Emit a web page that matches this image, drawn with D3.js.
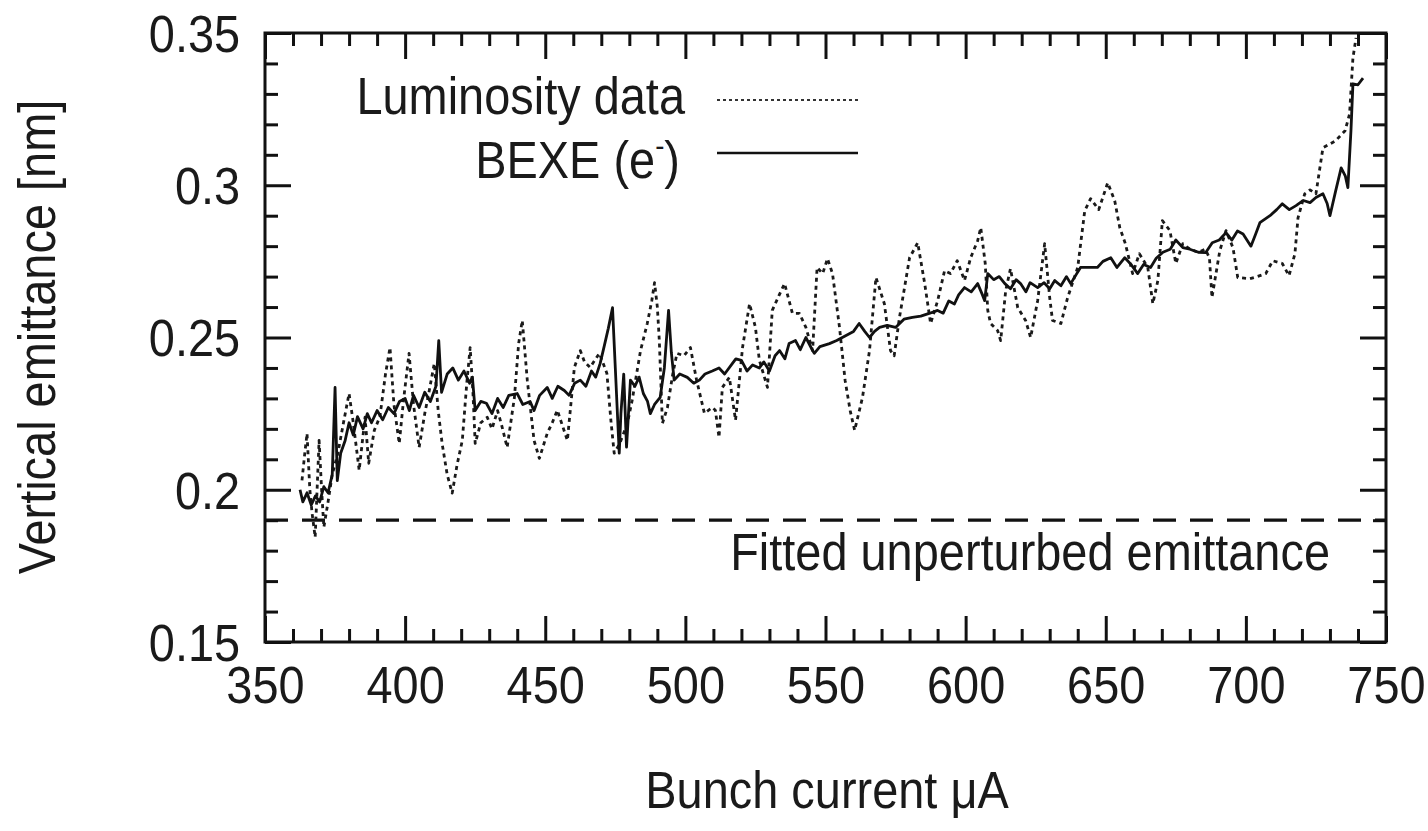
<!DOCTYPE html>
<html>
<head>
<meta charset="utf-8">
<script src="https://cdn.jsdelivr.net/npm/d3@7"></script>
<style>
  html, body { margin: 0; padding: 0; background: #fff; }
  svg { display: block; }
  text { font-family: "Liberation Sans", Arial, Helvetica, sans-serif; fill: #1a1a1a; }
</style>
</head>
<body>
<svg id="chart" width="1428" height="831"></svg>
<script>
// ---------------- data ----------------
const xMajorTicks = [350, 400, 450, 500, 550, 600, 650, 700, 750];
const xTickLabels = ["350", "400", "450", "500", "550", "600", "650", "700", "750"];
const yMajorTicks = [0.15, 0.2, 0.25, 0.3, 0.35];
const yTickLabels = ["0.15", "0.2", "0.25", "0.3", "0.35"];
const xMinorTicks = [360,370,380,390,410,420,430,440,460,470,480,490,510,520,530,540,560,570,580,590,610,620,630,640,660,670,680,690,710,720,730,740];
const yMinorTicks = [0.16,0.17,0.18,0.19,0.21,0.22,0.23,0.24,0.26,0.27,0.28,0.29,0.31,0.32,0.33,0.34];

const seriesNames = ["Luminosity data", "BEXE (e\u207B)"];
const fittedEmittance = 0.19;
const fittedLabel = "Fitted unperturbed emittance";
const xTitle = "Bunch current \u03BCA";
const yTitle = "Vertical emittance [nm]";

// BEXE (e-) : bunch current [uA]
const bexeCurrent = [362.5,363.5,365,366.5,368,369.5,371,372.5,374,375,375.8,377,378.6,380,381.5,383,385,386.5,388,390,392,394,396,398,400,401.5,403,405,407,409,411,412,413,415,417,419,421,423,424,425,427,429,431,433,435,437,440,442,444.6,446,448,450.7,452.5,454.5,456.8,458.5,460.5,462.5,464.5,466.5,468,469.6,471,472.5,474,475,476.4,477,478,479,480.4,482,483.5,485,486.5,487.5,489,491,492.5,494,495,496,498,500.7,503,505,507,509.6,512,514,516.8,518,520,522,524,526.4,528,530,532,533.6,535.5,537,539.3,541,543,545.4,546,548,551.4,554,556,558,560,562,564,565.7,567.5,569.3,572,575,578,581,584,587,590,592,594,596,597.5,599.6,602,604.3,606,606.8,607.9,610,612,614,616,618,619.6,621.5,623,625.7,628,630,631.8,634,636,637.5,639,641,644,647,649,651.8,654,656.8,659,661.4,663.5,666,668,670.4,673,675,677.5,680,683,685.7,688,690.5,692.9,695,697,699,701.8,703.5,705,708.6,711,713,715.5,717.9,720.5,722.9,725,727.5,729,730,732,734,735.5,736.4,737.5,738.2,740,741.8];
// BEXE (e-) : vertical emittance [nm]
const bexeEmittance = [0.200,0.196,0.199,0.195,0.198,0.196,0.201,0.199,0.205,0.2336,0.203,0.212,0.2162,0.222,0.218,0.224,0.220,0.225,0.222,0.226,0.223,0.227,0.225,0.229,0.230,0.226,0.231,0.227,0.232,0.229,0.234,0.249,0.232,0.238,0.240,0.236,0.239,0.235,0.237,0.226,0.229,0.2284,0.225,0.230,0.227,0.231,0.2316,0.228,0.229,0.226,0.231,0.2336,0.230,0.234,0.2326,0.231,0.235,0.236,0.234,0.239,0.237,0.2415,0.247,0.253,0.2598,0.240,0.212,0.225,0.238,0.214,0.236,0.234,0.237,0.2316,0.229,0.225,0.228,0.2303,0.240,0.2589,0.245,0.236,0.238,0.2369,0.235,0.236,0.238,0.239,0.240,0.238,0.2415,0.243,0.2425,0.239,0.241,0.240,0.242,0.239,0.244,0.2457,0.243,0.248,0.249,0.246,0.250,0.2457,0.2448,0.247,0.248,0.249,0.250,0.251,0.252,0.2546,0.252,0.250,0.252,0.2533,0.254,0.2533,0.256,0.2566,0.257,0.2579,0.2589,0.258,0.262,0.261,0.264,0.2664,0.265,0.2677,0.264,0.2621,0.271,0.269,0.270,0.2677,0.266,0.269,0.2677,0.265,0.268,0.2664,0.268,0.266,0.2687,0.267,0.270,0.2677,0.270,0.273,0.273,0.273,0.275,0.2762,0.273,0.2762,0.274,0.271,0.274,0.273,0.276,0.278,0.279,0.282,0.2795,0.279,0.278,0.2779,0.2811,0.282,0.2844,0.282,0.285,0.284,0.280,0.284,0.2877,0.290,0.292,0.2939,0.292,0.2933,0.295,0.2943,0.296,0.2972,0.294,0.290,0.298,0.3057,0.303,0.2992,0.318,0.3333,0.333,0.3352];

// Luminosity data : bunch current [uA]
const lumiCurrent = [363.2,364.2,365,366,366.8,367.9,369.3,370.2,371,372.5,374,376,378,380,381.5,383.6,385.7,387,389,391,393,394.6,396,397.9,399.5,401.4,403,405,407,408.5,410.4,411.8,413.2,415,416.8,418.5,420.4,422,423.2,424.2,425,427,429.3,431,433,434.5,436.4,439,440.5,441.8,443.6,446,447.9,450.7,452.5,454.3,457.9,460.4,462.5,464,466,469.3,472,473.5,474.6,476.5,479.3,481,484,486.4,488,489,490,490.7,491.8,493.6,495.5,497,499.5,501.8,504,506.8,509.6,510.7,512,513.2,515.7,517.9,520.4,522.9,525,526.4,529.3,531,533.5,535.4,538.2,540.7,543,545.4,547,549,550.7,552.5,555,557,558.8,560.4,563.2,565.7,568,571,573.2,574.5,576.4,580,582.9,585.4,587.5,590,592.5,594.6,597,599.6,601.8,604.3,605.4,607,607.9,608.9,611.4,612.5,614.3,616,618.6,621.4,623.2,625.7,628.2,630,631,634,636.4,640,642.5,644.6,647.5,650.7,653.2,655,657,659.6,662,665,666.8,668.6,670.2,672.9,675,677.5,680,683,685.5,687,687.9,690.7,692.9,695.4,697.1,701.4,704,707.1,709.6,713,715.4,717.5,718.6,721,722.9,725,727.5,732,735.4,737,738.2,739.3];
// Luminosity data : vertical emittance [nm]
const lumiEmittance = [0.2031,0.212,0.2185,0.200,0.1923,0.1844,0.2162,0.200,0.1877,0.196,0.205,0.212,0.222,0.2316,0.222,0.2064,0.2238,0.2087,0.2195,0.224,0.238,0.2467,0.228,0.2152,0.230,0.2448,0.228,0.2139,0.225,0.232,0.2415,0.226,0.2152,0.205,0.1989,0.208,0.2162,0.235,0.2467,0.232,0.2152,0.222,0.2238,0.220,0.226,0.221,0.2139,0.2303,0.248,0.2556,0.2359,0.2162,0.2103,0.2185,0.222,0.2261,0.2162,0.2402,0.2457,0.242,0.2402,0.2448,0.2382,0.222,0.212,0.215,0.2218,0.2293,0.2457,0.2546,0.262,0.268,0.260,0.249,0.2218,0.227,0.238,0.2448,0.244,0.2467,0.236,0.2251,0.227,0.2261,0.2172,0.2336,0.2369,0.2228,0.2467,0.2611,0.2533,0.2425,0.2336,0.2589,0.264,0.2677,0.2579,0.2579,0.2533,0.2457,0.273,0.271,0.2759,0.271,0.2533,0.2359,0.226,0.2195,0.2303,0.2457,0.2697,0.2611,0.2457,0.244,0.2566,0.2762,0.2811,0.2677,0.2546,0.262,0.272,0.271,0.2752,0.2687,0.2762,0.2818,0.2861,0.2743,0.2589,0.2546,0.2523,0.249,0.2654,0.2726,0.2598,0.2556,0.250,0.2621,0.2808,0.2631,0.2556,0.2546,0.2631,0.273,0.2916,0.2956,0.292,0.3008,0.2949,0.2861,0.2808,0.271,0.2775,0.273,0.2611,0.2687,0.2884,0.2851,0.2743,0.2808,0.279,0.278,0.279,0.2762,0.2631,0.2785,0.2851,0.2795,0.2697,0.2693,0.270,0.271,0.2752,0.2743,0.2703,0.2775,0.2893,0.2972,0.2985,0.2972,0.3123,0.3146,0.3179,0.3234,0.3418,0.3484];

// ---------------- layout ----------------
const svg = d3.select("#chart");
const pL = 265, pR = 1386, pT = 33, pB = 642;
const ink = "#111";

const x = d3.scaleLinear().domain([350, 750]).range([pL, pR]);
const y = d3.scaleLinear().domain([0.15, 0.35]).range([pB, pT]);

const FONT = 51;      // rendered with a slight horizontal squeeze
const SQ = 0.92;

svg.append("defs").append("clipPath").attr("id", "plotclip")
  .append("rect").attr("x", pL).attr("y", pT).attr("width", pR - pL).attr("height", pB - pT);

function styleAxis(g) {
  g.select(".domain").remove();
  g.selectAll(".tick line").attr("stroke", ink).attr("stroke-width", 3);
  g.selectAll("text").attr("font-size", FONT).attr("fill", "#1a1a1a")
    .attr("font-family", '"Liberation Sans", Arial, sans-serif')
    .attr("transform", `scale(${SQ},1)`);
}

// minor ticks (all four sides)
svg.append("g").attr("transform", `translate(0,${pB})`)
  .call(d3.axisBottom(x).tickValues(xMinorTicks).tickSize(-13).tickFormat(""))
  .call(styleAxis);
svg.append("g").attr("transform", `translate(0,${pT})`)
  .call(d3.axisTop(x).tickValues(xMinorTicks).tickSize(-13).tickFormat(""))
  .call(styleAxis);
svg.append("g").attr("transform", `translate(${pL},0)`)
  .call(d3.axisLeft(y).tickValues(yMinorTicks).tickSize(-13).tickFormat(""))
  .call(styleAxis);
svg.append("g").attr("transform", `translate(${pR},0)`)
  .call(d3.axisRight(y).tickValues(yMinorTicks).tickSize(-13).tickFormat(""))
  .call(styleAxis);

// major ticks
svg.append("g").attr("transform", `translate(0,${pB})`)
  .call(d3.axisBottom(x).tickValues(xMajorTicks).tickSize(-26).tickPadding(25)
    .tickFormat((d, i) => xTickLabels[i]))
  .call(styleAxis);
svg.append("g").attr("transform", `translate(0,${pT})`)
  .call(d3.axisTop(x).tickValues(xMajorTicks).tickSize(-26).tickFormat(""))
  .call(styleAxis);
svg.append("g").attr("transform", `translate(${pL},0)`)
  .call(d3.axisLeft(y).tickValues(yMajorTicks).tickSize(-26).tickPadding(27)
    .tickFormat((d, i) => yTickLabels[i]))
  .call(styleAxis)
  .call(g => g.selectAll("text").attr("dy", "0.36em"));
svg.append("g").attr("transform", `translate(${pR},0)`)
  .call(d3.axisRight(y).tickValues(yMajorTicks).tickSize(-26).tickFormat(""))
  .call(styleAxis);

// fitted unperturbed emittance
svg.append("line")
  .attr("x1", pL).attr("x2", pR)
  .attr("y1", y(fittedEmittance)).attr("y2", y(fittedEmittance))
  .attr("stroke", ink).attr("stroke-width", 3.2).attr("stroke-dasharray", "23,14");

function label(xp, yp, anchor, txt, extra) {
  return svg.append("text")
    .attr("transform", `translate(${xp},${yp})${extra || ""} scale(${SQ},1)`)
    .attr("text-anchor", anchor).attr("font-size", FONT).text(txt);
}
label(1330, 570, "end", fittedLabel);

// series lines
const plot = svg.append("g").attr("clip-path", "url(#plotclip)");
const lumiData = lumiCurrent.map((c, i) => [c, lumiEmittance[i]]);
const bexeData = bexeCurrent.map((c, i) => [c, bexeEmittance[i]]);
const line = d3.line().x(d => x(d[0])).y(d => y(d[1]));

plot.append("path").datum(lumiData).attr("d", line)
  .attr("fill", "none").attr("stroke", "#1a1a1a").attr("stroke-width", 2.8)
  .attr("stroke-dasharray", "4,4").attr("stroke-linejoin", "round");
plot.append("path").datum(bexeData).attr("d", line)
  .attr("fill", "none").attr("stroke", "#111").attr("stroke-width", 2.8)
  .attr("stroke-linejoin", "round");

// frame
svg.append("rect").attr("x", pL).attr("y", pT)
  .attr("width", pR - pL).attr("height", pB - pT)
  .attr("fill", "none").attr("stroke", ink).attr("stroke-width", 3);

// legend
label(685, 114, "end", seriesNames[0]);
svg.append("line").attr("x1", 717).attr("x2", 860).attr("y1", 100).attr("y2", 100)
  .attr("stroke", "#333").attr("stroke-width", 2).attr("stroke-dasharray", "3,3");
const t2 = svg.append("text")
  .attr("transform", `translate(680,178) scale(${SQ},1)`)
  .attr("text-anchor", "end").attr("font-size", FONT);
t2.append("tspan").text("BEXE (e");
t2.append("tspan").attr("font-size", 30).attr("dy", -22).text("-");
t2.append("tspan").attr("dy", 22).text(")");
svg.append("line").attr("x1", 717).attr("x2", 858).attr("y1", 153).attr("y2", 153)
  .attr("stroke", ink).attr("stroke-width", 2.4);

// axis titles
label(827, 808, "middle", xTitle);
label(55, 337, "middle", yTitle, " rotate(-90)");
</script>
</body>
</html>
